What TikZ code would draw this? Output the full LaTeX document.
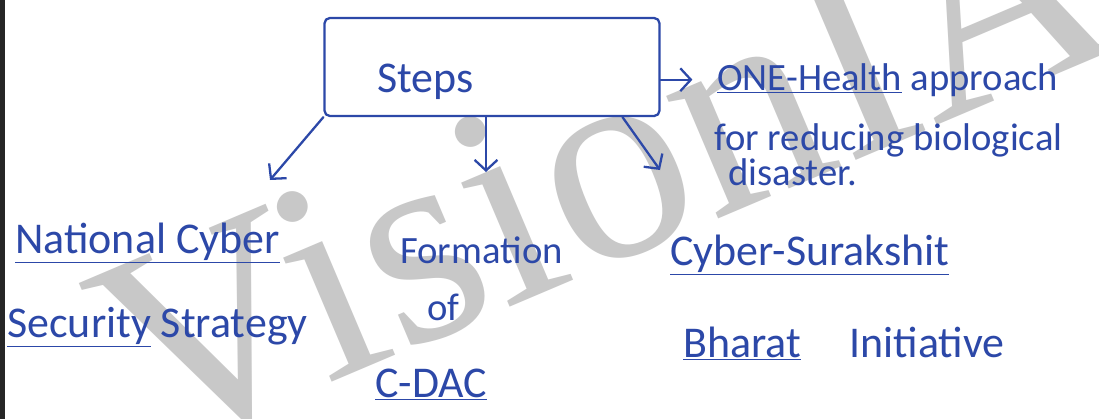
\documentclass[tikz,border=0pt]{standalone}
\usepackage{fontspec}
\setmainfont{Carlito}
\newfontfamily\wmfont{Liberation Serif}
\usetikzlibrary{arrows.meta,calc}
\definecolor{ink}{RGB}{44,72,168}
\definecolor{wmgrey}{RGB}{200,200,200}

\begin{document}
\begin{tikzpicture}[x=0.02cm, y=-0.02cm,
    inkline/.style={draw=ink, line width=1.3pt, line cap=round, line join=round},
    inkarrow/.style={inkline, -{Straight Barb[length=6pt,width=13pt,line width=1.3pt]}},
    hand/.style={text=ink, font=\fontsize{25}{29}\selectfont, inner sep=0pt, anchor=base west},
    handsmall/.style={hand, font=\fontsize{22}{26}\selectfont}]
    \useasboundingbox (0,0) rectangle (1099,419);
    % Paper
    \fill[white] (0,0) rectangle (1099,419);
    \fill[black!85] (0,0) rectangle (5,419);
    % Watermark
    \node[text=wmgrey, font=\wmfont\fontsize{165}{165}\selectfont, anchor=base west, rotate=23, inner sep=0pt] (mark) at (150,460) {VisionIAS};

    % Draw nodes
    \node[inkline, rounded corners=3pt, minimum width=6.7cm, minimum height=1.96cm] (box) at (492,67) {};
    \node[hand] (steps) at (377,92) {Steps};
    \node[handsmall] (one1) at (717,90) {\underline{ONE-Health} approach};
    \node[handsmall] (one2) at (714,150) {for reducing biological};
    \node[handsmall] (one3) at (728,185) {disaster.};
    \node[hand] (nat1) at (15,253) {\underline{National Cyber}};
    \node[hand] (nat2) at (7,337) {\underline{Security} Strategy};
    \node[handsmall] (form1) at (400,263) {Formation};
    \node[handsmall] (form2) at (427,320) {of};
    \node[hand] (form3) at (375,397) {\underline{C-DAC}};
    \node[hand] (cys1) at (670,265) {\underline{Cyber-Surakshit}};
    \node[hand] (cys2) at (683,357) {\underline{Bharat}\hspace{1.1em}Initiative};

    % Arrow ends
    \coordinate (tipA) at (270,180);
    \coordinate (tipB) at (486,172);
    \coordinate (tipC) at (660,170);

    % Draw connections
    \draw[inkarrow] (box.south west) -- (tipA);
    \draw[inkarrow] (box.south -| tipB) -- (tipB);
    \draw[inkarrow] ($(box.south west)!0.887!(box.south east)$) -- (tipC);
    \draw[inkarrow, shorten >=14pt] (box.east |- one1.west) -- (one1.west);
\end{tikzpicture}
\end{document}
